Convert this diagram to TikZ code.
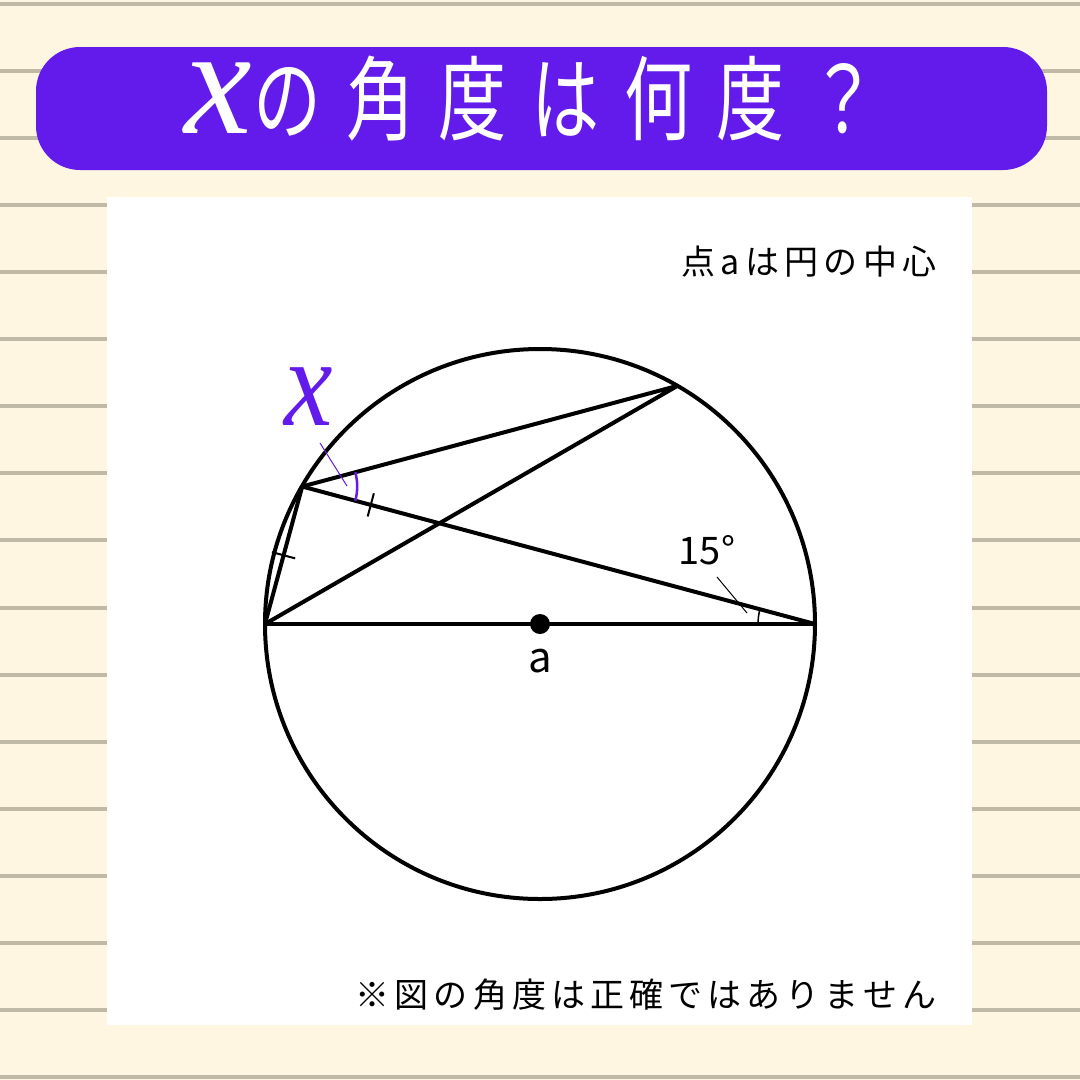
\documentclass[tikz,border=0pt]{standalone}
\usepackage{fontspec}
\usetikzlibrary{calc}
\newfontfamily\jpfont{Noto Sans CJK JP}
\newfontfamily\xfont{Liberation Serif}
\definecolor{paper}{RGB}{254,246,225}
\definecolor{ruleline}{RGB}{192,185,165}
\definecolor{banner}{RGB}{98,27,234}

\begin{document}
\begin{tikzpicture}[x=1pt,y=-1pt]
      % paper with ruled lines
      \fill[paper] (0,0) rectangle (1080,1080);
      \useasboundingbox (0,0) rectangle (1080,1080);
      \foreach \i in {0,...,16}
        \fill[ruleline] (0,{2+67.06*\i}) rectangle (1080,{6+67.06*\i});
      % title banner
      \fill[banner,rounded corners=44pt] (36,47) rectangle (1047,170);
      \node[text=white,inner sep=0pt,anchor=base west] (title) at (184,133)
        {\scalebox{15.2}[15.4]{\xfont\itshape x}\hspace{2pt}\scalebox{0.74}[1]{\jpfont\fontsize{92}{96}\selectfont\addfontfeature{LetterSpace=36}の角度は何度？}};
      % white panel
      \fill[white] (107,197) rectangle (972,1025);
      \node[inner sep=0pt] (note) at (809,262) {\jpfont\fontsize{34}{36}\selectfont\addfontfeature{LetterSpace=16}点aは円の中心};
      \node[inner sep=0pt] (warn) at (646,995) {\jpfont\fontsize{34}{36}\selectfont\addfontfeature{LetterSpace=15}※図の角度は正確ではありません};
      % circle and chords
      \coordinate (O) at (540,624);
      \coordinate (A) at (265,624);
      \coordinate (B) at (815,624);
      \coordinate (C) at (302.2,486.5);
      \coordinate (D) at (677.5,385.8);
      \draw [line width=4pt] (O) circle (275);
      \draw [line width=4pt,line join=round] (A) -- (B);
      \draw [line width=4pt,line join=round] (A) -- (C) -- (B);
      \draw [line width=4pt,line join=round] (C) -- (D) -- (A);
      \fill (O) circle (10);
      \node[inner sep=0pt] (alabel) at (540,661) {\jpfont\fontsize{42}{44}\selectfont a};
      % equal marks
      \coordinate (M) at ($(A)!0.5!(C)$);
      \draw [line width=2pt] ($(M)!12pt!90:(C)$) -- ($(M)!12pt!-90:(C)$);
      \coordinate (T) at ($(C)!71pt!(B)$);
      \draw [line width=2pt] ($(T)!12pt!90:(B)$) -- ($(T)!12pt!-90:(B)$);
      % angle x
      \draw [banner,line width=2.5pt] (C) ++(15:55) arc[start angle=15,end angle=-15,radius=55];
      \node[inner sep=0pt,text=banner] (xlabel) at (309,397) {\scalebox{10.9}[12.6]{\xfont\itshape x}};
      \coordinate (xp1) at (320,443);
      \coordinate (xp2) at (347,486);
      \draw [banner,line width=1pt] (xp1) -- (xp2);
      % angle 15
      \draw [line width=1.5pt] (B) ++(180:57) arc[start angle=180,end angle=195,radius=57];
      \node[inner sep=0pt] (deg) at (707,550) {\jpfont\fontsize{38}{40}\selectfont 15°};
      \coordinate (dp1) at (717,577);
      \coordinate (dp2) at (747,613);
      \draw [line width=1pt] (dp1) -- (dp2);
\end{tikzpicture}
\end{document}
